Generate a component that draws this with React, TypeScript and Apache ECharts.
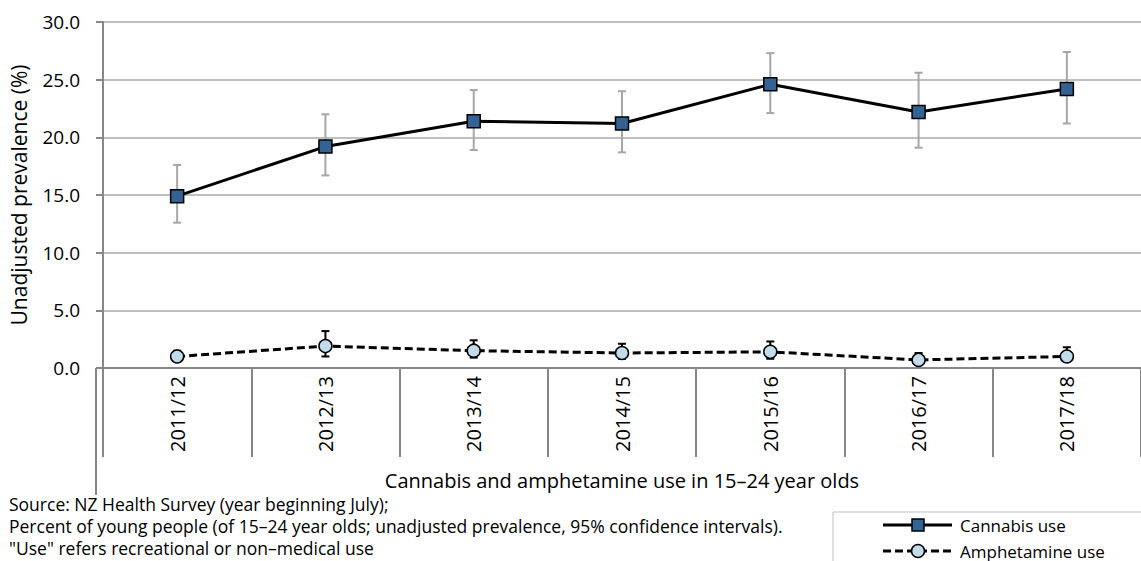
import React, { useEffect, useRef } from "react";
import * as echarts from "echarts";

const categories = ["2011/12", "2012/13", "2013/14", "2014/15", "2015/16", "2016/17", "2017/18"];
const cannabis = [14.9, 19.2, 21.4, 21.2, 24.6, 22.2, 24.2];
const cannabisLow = [12.6, 16.7, 18.9, 18.7, 22.1, 19.1, 21.2];
const cannabisHigh = [17.6, 22.0, 24.1, 24.0, 27.3, 25.6, 27.4];
const amphet = [1.0, 1.9, 1.5, 1.3, 1.4, 0.7, 1.0];
const amphetLow = [0.6, 1.0, 0.9, 0.8, 0.8, 0.4, 0.6];
const amphetHigh = [1.5, 3.2, 2.4, 2.1, 2.3, 1.3, 1.8];
const yTicks = { min: 0, max: 30, interval: 5 };
const seriesNames = ["Cannabis use", "Amphetamine use"];
const footnotes = [
  "Source: NZ Health Survey (year beginning July);",
  "Percent of young people (of 15\u201324 year olds; unadjusted prevalence, 95% confidence intervals).",
  "\"Use\" refers recreational or non\u2013medical use",
];

const FONT = "'Open Sans', 'Noto Sans', sans-serif";
const CANNABIS_FILL = "#336294";
const AMPHET_FILL = "#C3DCEC";
const DASH = [8, 4];

function errorBars(lo: number[], hi: number[], color: string, name: string) {
  return {
    type: "custom",
    name,
    z: 1,
    silent: true,
    data: categories.map((_, i) => [i, lo[i], hi[i]]),
    renderItem: (params: any, api: any) => {
      const x = api.value(0);
      const pLo = api.coord([x, api.value(1)]);
      const pHi = api.coord([x, api.value(2)]);
      const w = 4;
      const style = { stroke: color, lineWidth: 2 };
      return {
        type: "group",
        children: [
          { type: "line", shape: { x1: pLo[0], y1: pLo[1], x2: pHi[0], y2: pHi[1] }, style },
          { type: "line", shape: { x1: pLo[0] - w, y1: pLo[1], x2: pLo[0] + w, y2: pLo[1] }, style },
          { type: "line", shape: { x1: pHi[0] - w, y1: pHi[1], x2: pHi[0] + w, y2: pHi[1] }, style },
        ],
      };
    },
  };
}

export default function App() {
  const ref = useRef<HTMLDivElement>(null);
  useEffect(() => {
    if (!ref.current) return;
    const chart = echarts.init(ref.current, undefined, { renderer: "svg" });
    const legendX = 833;
    const legendY = 512;
    chart.setOption({
      animation: false,
      backgroundColor: "#ffffff",
      textStyle: { fontFamily: FONT },
      grid: { left: 96, right: 0, top: 22, height: 346 },
      xAxis: {
        type: "category",
        data: categories,
        boundaryGap: true,
        name: "Cannabis and amphetamine use in 15\u201324 year olds",
        nameLocation: "middle",
        nameGap: 102,
        nameTextStyle: { fontFamily: FONT, fontSize: 20, color: "#000" },
        axisLine: { lineStyle: { color: "#878787", width: 2 } },
        axisTick: { show: true, interval: 0, length: 89, lineStyle: { color: "#878787", width: 2 } },
        axisLabel: { rotate: 90, interval: 0, fontSize: 20, color: "#000", margin: 8, fontFamily: FONT },
      },
      yAxis: {
        type: "value",
        min: yTicks.min,
        max: yTicks.max,
        interval: yTicks.interval,
        name: "Unadjusted prevalence (%)",
        nameLocation: "middle",
        nameRotate: 90,
        nameGap: 74,
        nameTextStyle: { fontFamily: FONT, fontSize: 21, color: "#000" },
        axisLine: { show: true, lineStyle: { color: "#878787", width: 2 } },
        axisTick: { show: true, length: 7, lineStyle: { color: "#878787", width: 2 } },
        axisLabel: {
          fontSize: 19,
          color: "#000",
          margin: 23,
          fontFamily: FONT,
          formatter: (v: number) => v.toFixed(1),
        },
        splitLine: { lineStyle: { color: "#BFBFBF", width: 2 } },
      },
      graphic: [
        { type: "line", shape: { x1: 96, y1: 368, x2: 96, y2: 495 }, style: { stroke: "#878787", lineWidth: 2 } },
        ...footnotes.map((t, i) => ({
          type: "text",
          left: 9,
          top: 495 + i * 22,
          style: { text: t, fontFamily: FONT, fontSize: 17.5, lineHeight: 17, fill: "#000" },
        })),
        {
          type: "rect",
          shape: { x: legendX, y: legendY, width: 400, height: 100 },
          style: { fill: "#fff", stroke: "#BFBFBF", lineWidth: 1 },
        },
        { type: "line", shape: { x1: 883, y1: 525, x2: 952, y2: 525 }, style: { stroke: "#000", lineWidth: 3 } },
        {
          type: "rect",
          shape: { x: 912, y: 519, width: 12, height: 12 },
          style: { fill: CANNABIS_FILL, stroke: "#000", lineWidth: 1.5 },
        },
        {
          type: "text",
          x: 960,
          y: 525,
          style: { text: seriesNames[0], fontFamily: FONT, fontSize: 17, fill: "#000", verticalAlign: "middle" },
        },
        {
          type: "line",
          shape: { x1: 883, y1: 551, x2: 952, y2: 551 },
          style: { stroke: "#000", lineWidth: 3, lineDash: DASH },
        },
        {
          type: "circle",
          shape: { cx: 918, cy: 551, r: 6.5 },
          style: { fill: AMPHET_FILL, stroke: "#000", lineWidth: 1.5 },
        },
        {
          type: "text",
          x: 960,
          y: 551,
          style: { text: seriesNames[1], fontFamily: FONT, fontSize: 17, fill: "#000", verticalAlign: "middle" },
        },
      ],
      series: [
        errorBars(cannabisLow, cannabisHigh, "#A6A6A6", "cannabisCI"),
        errorBars(amphetLow, amphetHigh, "#000000", "amphetCI"),
        {
          type: "line",
          name: seriesNames[0],
          z: 3,
          data: cannabis,
          symbol: "rect",
          symbolSize: 13,
          lineStyle: { color: "#000", width: 3 },
          itemStyle: { color: CANNABIS_FILL, borderColor: "#000", borderWidth: 1.5 },
        },
        {
          type: "line",
          name: seriesNames[1],
          z: 3,
          data: amphet,
          symbol: "circle",
          symbolSize: 13,
          lineStyle: { color: "#000", width: 3, type: DASH },
          itemStyle: { color: AMPHET_FILL, borderColor: "#000", borderWidth: 1.5 },
        },
      ],
    });
    return () => chart.dispose();
  }, []);
  return <div ref={ref} style={{ position: "fixed", left: 0, top: 0, width: 1141, height: 561 }} />;
}
